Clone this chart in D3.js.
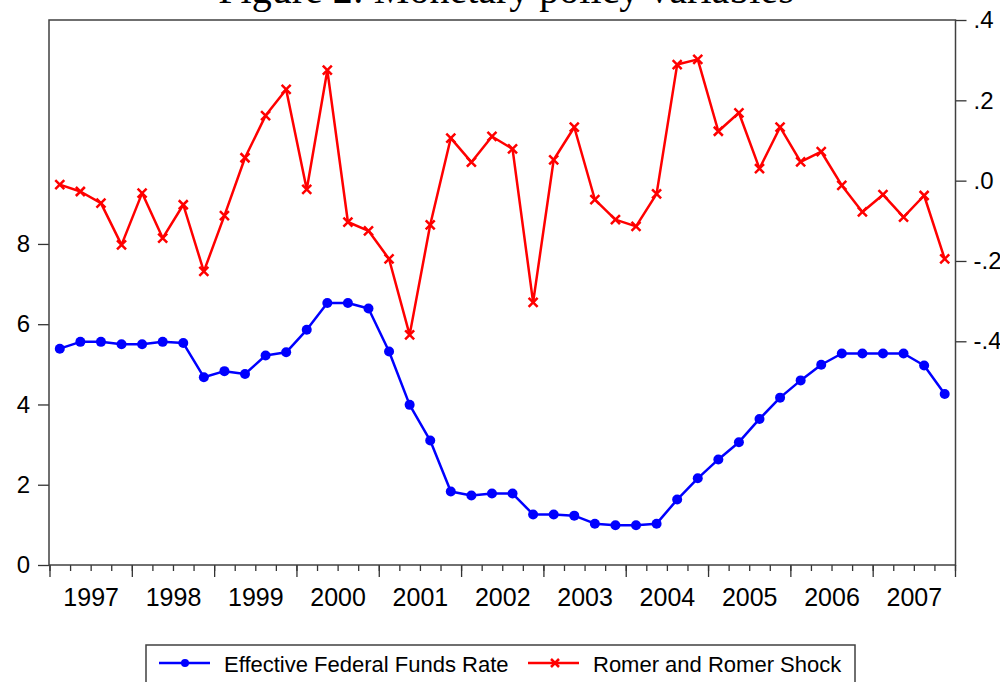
<!DOCTYPE html>
<html>
<head>
<meta charset="utf-8">
<script src="https://cdn.jsdelivr.net/npm/d3@7"></script>
<style>
  html, body { margin: 0; padding: 0; background: #fff; }
  svg { display: block; }
  text { font-family: Arial, "Liberation Sans", sans-serif; fill: #000; }
</style>
</head>
<body>
<div id="chart"></div>
<script>
// quarterly observations, 1997Q1 .. 2007Q4
const years = [1997, 1998, 1999, 2000, 2001, 2002, 2003, 2004, 2005, 2006, 2007];
const quarters = years.flatMap(y => [1, 2, 3, 4].map(q => y + "Q" + q));

// effective federal funds rate (left axis)
const fedFunds = [
  5.39, 5.56, 5.56, 5.50,  5.50, 5.56, 5.53, 4.68,
  4.83, 4.76, 5.22, 5.30,  5.86, 6.53, 6.53, 6.39,
  5.32, 3.99, 3.10, 1.83,  1.73, 1.78, 1.78, 1.26,
  1.26, 1.23, 1.03, 0.99,  0.99, 1.03, 1.63, 2.16,
  2.63, 3.06, 3.64, 4.17,  4.60, 4.99, 5.27, 5.27,
  5.27, 5.27, 4.97, 4.26
];

// Romer and Romer shock (right axis)
const romerShock = [
  -0.010, -0.027, -0.056, -0.160,  -0.031, -0.143, -0.060, -0.226,
  -0.087,  0.057,  0.162,  0.227,  -0.022,  0.275, -0.103, -0.125,
  -0.195, -0.384, -0.110,  0.106,   0.046,  0.110,  0.079, -0.303,
   0.052,  0.133, -0.047, -0.097,  -0.114, -0.033,  0.289,  0.302,
   0.123,  0.169,  0.030,  0.133,   0.047,  0.072, -0.012, -0.078,
  -0.035, -0.091, -0.037, -0.195
];

const leftTicks  = [0, 2, 4, 6, 8];
const rightTicks = [0.4, 0.2, 0.0, -0.2, -0.4];
const seriesNames = ["Effective Federal Funds Rate", "Romer and Romer Shock"];

const WIDTH = 1000, HEIGHT = 682;
const plot = { left: 49, right: 955.5, top: 20, bottom: 565 };
const BLUE = "#0000ff", RED = "#ff0000";

const svg = d3.select("#chart")
  .append("svg")
    .attr("width", WIDTH)
    .attr("height", HEIGHT);

// scales
const x = d3.scaleLinear()
  .domain([years[0], years[years.length - 1] + 1])
  .range([plot.left + 0.5, plot.right - 0.5]);
const qx = i => x(years[0] + (i + 0.5) / 4);

const yL = d3.scaleLinear().domain([0, 13.58]).range([plot.bottom, plot.top]);
const yR = d3.scaleLinear().domain([-0.957, 0.4]).range([plot.bottom, plot.top]);

// title (mostly cropped at the top edge)
svg.append("text")
  .attr("x", 506)
  .attr("y", 3)
  .attr("text-anchor", "middle")
  .style("font-family", "'Liberation Serif', 'Times New Roman', serif")
  .style("font-size", "40px")
  .text("Figure 2: Monetary policy variables");

// left axis
const axL = svg.append("g")
  .attr("transform", `translate(${plot.left},0)`)
  .call(d3.axisLeft(yL).tickValues(leftTicks).tickSize(11).tickPadding(8).tickFormat(d3.format("d")));
axL.select(".domain").remove();
axL.selectAll("line").attr("stroke", "#333").attr("stroke-width", 1.3);
axL.selectAll("text").style("font-size", "24px");

// right axis, EViews style labels: .4 .2 .0 -.2 -.4
const fmtR = d => (d < 0 ? "-" : "") + Math.abs(d).toFixed(1).replace(/^0/, "");
const axR = svg.append("g")
  .attr("transform", `translate(${plot.right},0)`)
  .call(d3.axisRight(yR).tickValues(rightTicks).tickSize(11).tickPadding(7).tickFormat(fmtR));
axR.select(".domain").remove();
axR.selectAll("line").attr("stroke", "#333").attr("stroke-width", 1.3);
axR.selectAll("text").style("font-size", "24px");

// bottom axis: quarter minor ticks, year major ticks, labels mid-year
const quarterEdges = d3.range(years.length * 4 + 1).map(i => years[0] + i / 4);
const axMinor = svg.append("g")
  .attr("transform", `translate(0,${plot.bottom})`)
  .call(d3.axisBottom(x).tickValues(quarterEdges).tickSize(6).tickFormat(""));
axMinor.select(".domain").remove();
axMinor.selectAll("line").attr("stroke", "#333").attr("stroke-width", 1.3);

const yearEdges = years.concat([years[years.length - 1] + 1]);
const axMajor = svg.append("g")
  .attr("transform", `translate(0,${plot.bottom})`)
  .call(d3.axisBottom(x).tickValues(yearEdges).tickSize(12).tickFormat(""));
axMajor.select(".domain").remove();
axMajor.selectAll("line").attr("stroke", "#333").attr("stroke-width", 1.3);

const axLab = svg.append("g")
  .attr("transform", `translate(0,${plot.bottom})`)
  .call(d3.axisBottom(x).tickValues(years.map(y => y + 0.5)).tickSize(0).tickPadding(23)
    .tickFormat(d => String(Math.floor(d))));
axLab.select(".domain").remove();
axLab.selectAll("text").style("font-size", "25px");

// plot frame
svg.append("rect")
  .attr("x", plot.left)
  .attr("y", plot.top)
  .attr("width", plot.right - plot.left)
  .attr("height", plot.bottom - plot.top)
  .attr("fill", "none")
  .attr("stroke", "#404040")
  .attr("stroke-width", 1.5);

// red series: Romer and Romer shock
svg.append("path")
  .datum(romerShock)
  .attr("fill", "none")
  .attr("stroke", RED)
  .attr("stroke-width", 2.5)
  .attr("stroke-linejoin", "round")
  .attr("d", d3.line().x((d, i) => qx(i)).y(d => yR(d)));

const crossPath = s => `M${-s},${-s}L${s},${s}M${-s},${s}L${s},${-s}`;
svg.selectAll("path.cross")
  .data(romerShock)
  .join("path")
    .attr("class", "cross")
    .attr("transform", (d, i) => `translate(${qx(i)},${yR(d)})`)
    .attr("d", crossPath(4.5))
    .attr("stroke", RED)
    .attr("stroke-width", 2.5)
    .attr("fill", "none");

// blue series: effective federal funds rate
svg.append("path")
  .datum(fedFunds)
  .attr("fill", "none")
  .attr("stroke", BLUE)
  .attr("stroke-width", 2.5)
  .attr("stroke-linejoin", "round")
  .attr("d", d3.line().x((d, i) => qx(i)).y(d => yL(d)));

svg.selectAll("circle.dot")
  .data(fedFunds)
  .join("circle")
    .attr("class", "dot")
    .attr("cx", (d, i) => qx(i))
    .attr("cy", d => yL(d))
    .attr("r", 5)
    .attr("fill", BLUE);

// legend
const legend = svg.append("g");
legend.append("rect")
  .attr("x", 146)
  .attr("y", 645)
  .attr("width", 709)
  .attr("height", 60)
  .attr("fill", "#fff")
  .attr("stroke", "#404040")
  .attr("stroke-width", 1.5);

const legendItems = [
  { name: seriesNames[0], color: BLUE, x0: 159, kind: "dot" },
  { name: seriesNames[1], color: RED,  x0: 528, kind: "cross" }
];
const li = legend.selectAll("g.item")
  .data(legendItems)
  .join("g")
    .attr("class", "item")
    .attr("transform", d => `translate(${d.x0},663)`);
li.append("line")
  .attr("x1", 0).attr("x2", 51)
  .attr("stroke", d => d.color)
  .attr("stroke-width", 2.5);
li.filter(d => d.kind === "dot").append("circle")
  .attr("cx", 26).attr("r", 4)
  .attr("fill", d => d.color);
li.filter(d => d.kind === "cross").append("path")
  .attr("transform", "translate(27,0)")
  .attr("d", crossPath(4))
  .attr("stroke", d => d.color)
  .attr("stroke-width", 2.5);
li.append("text")
  .attr("x", 65)
  .attr("y", 9)
  .style("font-size", "22px")
  .text(d => d.name);
</script>
</body>
</html>
